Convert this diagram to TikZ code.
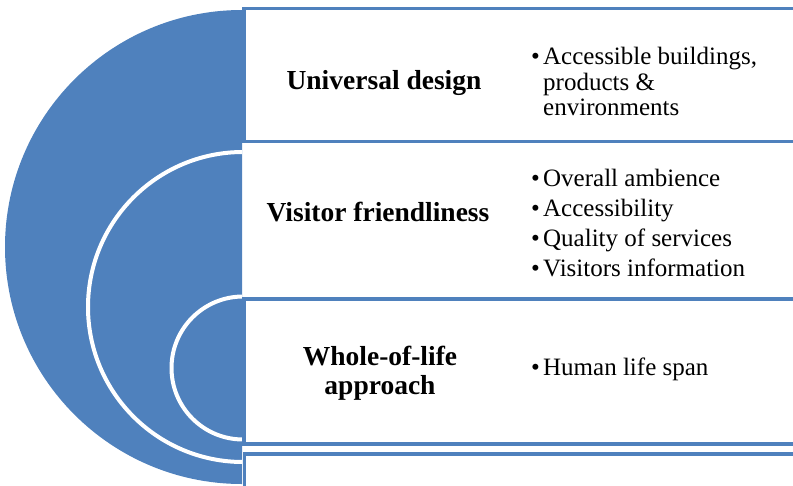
\documentclass[tikz,border=0pt]{standalone}
\usepackage{fontspec}
\setmainfont{Liberation Serif}
\definecolor{ringblue}{HTML}{4F81BD}
\newcommand{\bul}{\makebox[12pt][l]{•}}
\newcommand{\ind}{\hspace*{12pt}}
\begin{document}
\begin{tikzpicture}[x=1pt, y=-1pt,
  band/.style={draw=ringblue, line width=3.5pt, fill=white, outer sep=0pt, anchor=north west, minimum width=600pt},
  title/.style={font=\fontsize{27.5}{29}\selectfont\bfseries, align=center, inner sep=0pt},
  items/.style={font=\fontsize{25}{25.5}\selectfont, align=left, inner sep=0pt, anchor=west}]
  \useasboundingbox (0,0) rectangle (793,485);
  \clip (0,0) rectangle (793,485);
  \begin{scope}
    \clip (0,0) rectangle (242,485);
    \fill [ringblue] (242,247) circle [radius=237pt];
    \draw [white, line width=4pt] (243,307) circle [radius=155pt];
    \draw [white, line width=4pt] (243,368) circle [radius=71.5pt];
  \end{scope}
  \node [band, minimum height=133pt] (udbox) at (244,8.5) {};
  \node [band, minimum height=145pt] (wlbox) at (244,299) {};
  \node [band, minimum height=100pt] (lowbox) at (244.5,454) {};
  \node [title, anchor=base] (ud) at (384,89.3) {Universal design};
  \node [items] (udlist) at (531,81.5) {\bul Accessible buildings,\\\ind products \&\\\ind environments};
  \node [title, anchor=base] (vf) at (378,221.7) {Visitor friendliness};
  \node [items] (vflist) at (531,223.5) {\bul Overall ambience\\[4.5pt]\bul Accessibility\\[4.5pt]\bul Quality of services\\[4.5pt]\bul Visitors information};
  \node [title] (wl) at (380,373.5) {Whole-of-life\\approach};
  \node [items, anchor=base west] (wllist) at (531,375) {\bul Human life span};
\end{tikzpicture}
\end{document}
